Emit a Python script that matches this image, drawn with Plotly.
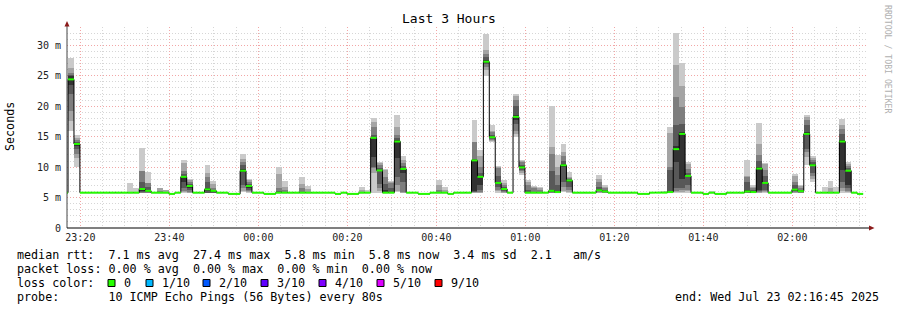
import plotly.graph_objects as go
from datetime import datetime, timedelta

# ---------------- data ----------------
first_step = "2025-07-22 23:15:54"   # start of first (partly visible) 80 s step
step_seconds = 80
axis_start = "2025-07-22 23:17:00"
axis_end = "2025-07-23 02:17:00"

# median rtt per step (ms); None = no data
median_ms = [
    5.8,
    24.4, 13.8, 5.8, 5.8, 5.8, 5.8, 5.8, 5.8, 5.8, 5.8,
    5.8, 5.8, 6.4, 6.1, 5.8, 5.8, 5.8, 5.6, 5.8, 8.4,
    6.9, 5.8, 5.8, 6.35, 6.1, 5.8, 5.8, 5.6, 5.6, 9.4,
    6.9, 5.8, 5.8, 5.6, 5.6, 5.8, 5.8, 5.8, 5.8, 5.8,
    5.8, 5.8, 5.8, 5.8, 5.8, 5.6, 5.8, 5.6, 5.6, 5.8,
    5.8, 14.8, 9.45, 5.8, 5.8, 14.2, 9.7, 5.8, 5.8, 5.6,
    5.6, 5.8, 5.8, 5.8, 5.6, 5.8, 5.8, 5.8, 11.1, 8.4,
    27.3, 14.9, 7.4, 6.4, 5.8, 18.25, 9.95, 5.8, 5.8, 5.8,
    5.8, 6.1, 5.9, 10.3, 7.8, 5.8, 5.8, 5.8, 5.8, 6.2,
    6.0, 5.8, 5.8, 5.8, 5.8, 5.8, 5.6, 5.6, 5.8, 5.8,
    5.8, 5.9, 12.95, 15.45, 8.55, 5.8, 5.8, 5.6, 5.8, 5.6,
    5.6, 5.8, 5.8, 5.8, 6.0, 5.9, 9.75, 7.4, 5.8, 5.8,
    5.8, 5.8, 6.3, 6.05, 15.45, 10.3, 5.8, 5.8, 5.8, 5.8,
    14.2, 9.4, 5.8, 5.6, None,
]

# steps that show smoke, and their 10 sorted ping times (ms)
smoke_steps = [1, 2, 11, 12, 13, 14, 16, 17, 20, 21, 24, 25, 30, 31, 36, 37, 40, 41,
               50, 51, 52, 53, 54, 55, 56, 57, 63, 64, 69, 70, 71, 72, 73, 74, 76, 77,
               78, 79, 80, 82, 83, 84, 85, 90, 91, 102, 103, 104, 105, 109, 115, 116,
               117, 118, 123, 124, 125, 126, 128, 129, 130, 131, 132]
smoke_pings = [
    [15.9, 17.5, 19.2, 22.0, 23.5, 25.0, 25.2, 25.5, 26.3, 27.9],
    [9.95, 11.5, 12.2, 13.0, 13.5, 14.0, 14.2, 14.4, 14.8, 15.2],
    [5.8, 5.8, 5.8, 5.8, 5.8, 5.8, 5.8, 5.8, 5.8, 7.4],
    [5.8, 5.8, 5.8, 5.8, 5.8, 5.8, 5.8, 5.8, 5.8, 6.6],
    [5.8, 5.8, 5.8, 5.9, 6.0, 6.6, 7.6, 9.4, 9.4, 13.1],
    [5.8, 5.8, 5.8, 5.9, 6.0, 6.2, 6.8, 7.4, 7.4, 9.2],
    [5.8, 5.8, 5.8, 5.8, 5.8, 5.8, 5.8, 6.1, 6.5, 6.6],
    [5.8, 5.8, 5.8, 5.8, 5.8, 5.8, 5.8, 5.8, 6.2, 6.3],
    [5.8, 5.9, 6.1, 6.6, 7.5, 8.5, 8.8, 9.4, 10.7, 11.2],
    [5.8, 5.8, 5.9, 6.2, 6.6, 7.0, 7.3, 7.6, 7.9, 8.0],
    [5.8, 5.8, 5.8, 5.8, 6.0, 6.6, 7.6, 8.4, 9.0, 10.3],
    [5.8, 5.8, 5.8, 5.8, 5.9, 6.1, 6.3, 6.6, 7.2, 7.7],
    [5.9, 6.0, 6.5, 7.0, 9.2, 9.7, 10.3, 10.9, 11.4, 12.1],
    [5.8, 5.9, 6.0, 6.2, 6.6, 7.0, 7.2, 7.5, 7.8, 8.0],
    [5.8, 5.8, 5.8, 5.8, 5.8, 5.8, 6.0, 6.5, 8.9, 10.0],
    [5.8, 5.8, 5.8, 5.8, 5.8, 5.8, 5.8, 6.2, 6.8, 7.7],
    [5.8, 5.8, 5.8, 5.8, 5.8, 5.8, 5.8, 6.6, 7.2, 8.4],
    [5.8, 5.8, 5.8, 5.8, 5.8, 5.8, 5.8, 5.8, 6.4, 6.9],
    [5.8, 5.8, 5.8, 5.8, 5.8, 5.8, 5.8, 5.8, 6.3, 6.7],
    [5.8, 5.8, 5.8, 5.8, 5.8, 5.8, 5.8, 5.8, 5.8, 6.3],
    [5.8, 9.0, 9.9, 10.0, 11.7, 15.0, 15.3, 16.6, 17.4, 18.0],
    [5.8, 6.0, 6.6, 7.3, 9.3, 9.6, 9.9, 10.3, 10.6, 10.8],
    [5.8, 5.8, 5.8, 5.8, 5.8, 6.2, 7.3, 8.4, 9.6, 9.7],
    [5.8, 5.8, 5.8, 5.8, 5.8, 5.8, 6.5, 7.4, 7.6, 7.7],
    [5.9, 6.0, 7.0, 8.4, 11.5, 14.4, 14.8, 15.2, 16.6, 18.5],
    [5.8, 5.8, 5.9, 7.5, 9.0, 9.8, 10.2, 10.6, 11.2, 11.9],
    [5.8, 5.8, 5.8, 5.8, 5.8, 5.8, 5.8, 6.3, 7.0, 7.9],
    [5.8, 5.8, 5.8, 5.8, 5.8, 5.8, 5.8, 5.8, 6.3, 6.7],
    [5.8, 5.8, 5.9, 5.9, 6.0, 11.2, 11.3, 14.1, 14.2, 17.7],
    [5.8, 5.8, 5.9, 6.2, 7.0, 8.6, 9.0, 10.0, 11.8, 12.8],
    [25.0, 26.0, 26.4, 26.9, 27.1, 27.6, 28.0, 28.6, 29.2, 31.8],
    [14.1, 14.3, 14.5, 14.6, 14.8, 15.0, 15.3, 15.7, 16.0, 16.9],
    [5.8, 6.0, 6.3, 6.7, 7.2, 7.6, 8.5, 9.9, 10.0, 10.1],
    [5.8, 5.8, 5.9, 6.1, 6.3, 6.5, 6.7, 7.1, 7.4, 7.8],
    [15.0, 15.5, 16.0, 17.0, 17.8, 18.6, 20.0, 21.0, 21.6, 22.0],
    [8.7, 9.0, 9.3, 9.5, 9.8, 10.1, 10.4, 10.8, 11.0, 11.2],
    [5.8, 5.8, 5.8, 5.8, 5.8, 5.9, 6.3, 7.0, 7.6, 7.8],
    [5.8, 5.8, 5.8, 5.8, 5.8, 5.8, 5.8, 6.5, 6.8, 6.9],
    [5.8, 5.8, 5.8, 5.8, 5.8, 5.8, 5.8, 6.3, 6.5, 6.7],
    [5.8, 5.8, 5.8, 5.9, 6.0, 6.3, 9.3, 12.2, 13.3, 20.0],
    [5.8, 5.8, 5.8, 5.8, 5.9, 6.0, 7.0, 8.7, 10.0, 12.0],
    [5.9, 6.1, 6.8, 7.6, 10.0, 10.5, 11.0, 11.8, 12.4, 13.8],
    [5.8, 5.9, 6.2, 6.7, 7.6, 7.9, 8.0, 8.2, 8.4, 9.2],
    [5.8, 5.8, 5.9, 6.0, 6.1, 6.4, 6.8, 7.5, 8.1, 8.7],
    [5.8, 5.8, 5.8, 5.9, 5.9, 6.1, 6.3, 6.6, 6.8, 7.1],
    [5.8, 5.8, 5.8, 5.8, 5.8, 6.0, 9.5, 10.0, 15.6, 16.6],
    [5.8, 5.9, 6.0, 6.5, 10.8, 13.5, 16.9, 21.5, 26.8, 32.0],
    [5.8, 5.9, 6.2, 6.6, 8.0, 15.8, 17.0, 19.9, 23.3, 27.05],
    [5.8, 6.0, 6.3, 7.0, 8.3, 8.7, 9.0, 9.7, 10.5, 10.9],
    [5.8, 5.8, 5.8, 5.8, 5.8, 5.8, 5.8, 5.8, 5.8, 6.1],
    [5.8, 5.8, 5.8, 5.9, 5.9, 6.2, 7.5, 8.4, 8.6, 11.2],
    [5.8, 5.8, 5.8, 5.8, 5.8, 6.0, 6.3, 6.6, 6.8, 7.0],
    [5.8, 5.8, 5.9, 6.0, 6.2, 10.0, 11.0, 12.0, 13.8, 17.2],
    [5.8, 5.9, 6.0, 6.2, 7.2, 7.6, 8.5, 9.5, 10.5, 10.7],
    [5.8, 5.8, 5.9, 6.0, 6.1, 6.4, 7.0, 7.6, 8.5, 8.9],
    [5.8, 5.8, 5.8, 5.9, 6.0, 6.1, 6.3, 6.6, 6.9, 7.1],
    [10.3, 11.7, 12.5, 13.0, 15.2, 15.7, 16.9, 17.8, 18.2, 18.5],
    [7.6, 8.0, 8.5, 9.0, 10.1, 10.5, 10.8, 11.2, 11.5, 11.9],
    [5.8, 5.8, 5.8, 5.8, 5.8, 5.8, 5.8, 5.8, 5.8, 6.7],
    [5.8, 5.8, 5.8, 5.8, 5.8, 5.8, 5.8, 5.8, 6.6, 7.7],
    [5.8, 5.8, 5.8, 5.8, 5.8, 5.8, 5.8, 5.8, 5.8, 6.7],
    [5.8, 6.0, 6.6, 7.6, 9.5, 14.5, 15.5, 16.2, 16.9, 17.9],
    [5.8, 5.9, 6.1, 6.5, 7.1, 9.5, 9.8, 10.2, 10.5, 10.8],
]

y_tick_vals = [0, 5, 10, 15, 20, 25, 30]
y_tick_text = ["0", "5 m", "10 m", "15 m", "20 m", "25 m", "30 m"]

loss_labels = ["0", "1/10", "2/10", "3/10", "4/10", "5/10", "9/10"]
loss_colors = ["#26ff00", "#00b8ff", "#0059ff", "#5e00ff", "#7e00ff", "#dd00ff", "#ff0000"]

title_text = "Last 3 Hours"
y_title = "Seconds"
credit_text = "RRDTOOL / TOBI OETIKER"
line_median = "median rtt:  7.1 ms avg  27.4 ms max  5.8 ms min  5.8 ms now  3.4 ms sd  2.1   am/s"
line_loss = "packet loss: 0.00 % avg  0.00 % max  0.00 % min  0.00 % now"
line_color = "loss color:"
line_probe = "probe:       10 ICMP Echo Pings (56 Bytes) every 80s"
line_end = "end: Wed Jul 23 02:16:45 2025"

smoke_shades = ["#cacaca", "#a4a4a4", "#7e7e7e", "#585858", "#323232"]

# ---------------- layout geometry (px) ----------------
W, H = 897, 310
L, R, T, B = 67, 868, 27, 228
PW, PH = R - L, B - T
FONT = "DejaVu Sans Mono"


def px_x(px):
    return (px - L) / PW


def px_y(py):
    return (B - py) / PH


def nb(s):
    return s.replace(" ", "\u00a0")


t0 = datetime.fromisoformat(first_step)
step = timedelta(seconds=step_seconds)
starts = [t0 + step * k for k in range(len(median_ms))]
centers = [s + step / 2 for s in starts]

fig = go.Figure()

# smoke bands (outer = light, inner = dark)
ping_of = dict(zip(smoke_steps, smoke_pings))
for i, shade in enumerate(smoke_shades):
    xs, base, hgt = [], [], []
    for k in smoke_steps:
        p = ping_of[k]
        lo, hi = p[i], p[len(p) - 1 - i]
        if hi > lo:
            xs.append(centers[k])
            base.append(lo)
            hgt.append(hi - lo)
    fig.add_trace(go.Bar(x=xs, y=hgt, base=base, width=step_seconds * 1000,
                         marker=dict(color=shade, line=dict(width=0)),
                         hoverinfo="skip"))

# black step line for the median
bx, by = [], []
for k, v in enumerate(median_ms):
    if v is None:
        bx.append(None)
        by.append(None)
        continue
    bx += [starts[k], starts[k] + step]
    by += [v, v]
fig.add_trace(go.Scatter(x=bx, y=by, mode="lines",
                         line=dict(color="#000000", width=1), hoverinfo="skip"))

# loss-coloured median segments
gx, gy = [], []
for k, v in enumerate(median_ms):
    if v is None:
        continue
    gx += [starts[k], starts[k] + step, None]
    gy += [v, v, None]
fig.add_trace(go.Scatter(x=gx, y=gy, mode="lines",
                         line=dict(color=loss_colors[0], width=2), hoverinfo="skip"))

minor_grid = "#d6d6d6"
major_grid = "#f2a6a6"
dots = "1px,2px"

fig.update_layout(
    width=W, height=H,
    margin=dict(l=L, r=W - R, t=T, b=H - B, pad=0),
    paper_bgcolor="white", plot_bgcolor="white",
    showlegend=False, barmode="overlay", bargap=0,
    font=dict(family=FONT, color="#000000"),
    xaxis=dict(
        type="date", range=[axis_start, axis_end],
        tickmode="linear", tick0="2025-07-22 23:20:00", dtick=20 * 60 * 1000,
        tickformat="%H:%M", ticks="", ticklabelstandoff=2,
        tickfont=dict(family=FONT, size=10, color="#222222"),
        showgrid=True, gridcolor=major_grid, griddash=dots, gridwidth=1,
        minor=dict(tick0="2025-07-22 23:20:00", dtick=5 * 60 * 1000, showgrid=True,
                   gridcolor=minor_grid, griddash=dots, gridwidth=1),
        zeroline=False, showline=False, fixedrange=True,
    ),
    yaxis=dict(
        range=[0, 33], tickmode="array", tickvals=y_tick_vals, ticktext=y_tick_text,
        ticks="", ticklabelstandoff=5,
        tickfont=dict(family=FONT, size=10, color="#222222"),
        showgrid=True, gridcolor=major_grid, griddash=dots, gridwidth=1,
        minor=dict(tickmode="linear", tick0=0, dtick=1, showgrid=True,
                   gridcolor=minor_grid, griddash=dots, gridwidth=1),
        zeroline=False, showline=False, fixedrange=True,
    ),
)

shapes = [
    dict(type="line", xref="paper", yref="paper", x0=0, x1=0, y0=0, y1=px_y(25),
         line=dict(color="#444444", width=1)),
    dict(type="line", xref="paper", yref="paper", x0=0, x1=px_x(870), y0=0, y1=0,
         line=dict(color="#000000", width=1)),
    dict(type="path", xref="paper", yref="paper",
         path=f"M {px_x(64.5)} {px_y(26.5)} L {px_x(69.5)} {px_y(26.5)} L {px_x(67)} {px_y(21)} Z",
         fillcolor="#8b1a1a", line=dict(width=0)),
    dict(type="path", xref="paper", yref="paper",
         path=f"M {px_x(869)} {px_y(225.5)} L {px_x(869)} {px_y(230.5)} L {px_x(874.5)} {px_y(228)} Z",
         fillcolor="#8b1a1a", line=dict(width=0)),
]
sq_x = [108, 146, 203, 261, 319, 377, 435]
for xs0, col in zip(sq_x, loss_colors):
    shapes.append(dict(type="rect", xref="paper", yref="paper",
                       x0=px_x(xs0), x1=px_x(xs0 + 7), y0=px_y(286.5), y1=px_y(279.5),
                       fillcolor=col, line=dict(color="#000000", width=1)))
fig.update_layout(shapes=shapes)

TXT = 11.7
ann = [
    dict(text=title_text, x=px_x(448.5), y=px_y(19), xanchor="center", yanchor="middle",
         font=dict(family=FONT, size=13, color="#000000")),
    dict(text=y_title, x=px_x(10), y=px_y(127), xanchor="center", yanchor="middle",
         textangle=-90, font=dict(family=FONT, size=TXT, color="#000000")),
    dict(text=nb(credit_text), x=px_x(888), y=px_y(59), xanchor="center", yanchor="middle",
         textangle=90, font=dict(family=FONT, size=8.2, color="#b0b0b0")),
    dict(text=nb(line_median), x=px_x(15), y=px_y(254.5), xanchor="left", yanchor="middle",
         font=dict(family=FONT, size=TXT, color="#000000")),
    dict(text=nb(line_loss), x=px_x(15), y=px_y(268.5), xanchor="left", yanchor="middle",
         font=dict(family=FONT, size=TXT, color="#000000")),
    dict(text=nb(line_color), x=px_x(15), y=px_y(282.5), xanchor="left", yanchor="middle",
         font=dict(family=FONT, size=TXT, color="#000000")),
    dict(text=nb(line_probe), x=px_x(15), y=px_y(297), xanchor="left", yanchor="middle",
         font=dict(family=FONT, size=TXT, color="#000000")),
    dict(text=nb(line_end), x=px_x(881), y=px_y(297), xanchor="right", yanchor="middle",
         font=dict(family=FONT, size=TXT, color="#000000")),
]
for xs0, lab in zip(sq_x, loss_labels):
    ann.append(dict(text=nb(lab), x=px_x(xs0 + 14), y=px_y(282.5), xanchor="left",
                    yanchor="middle", font=dict(family=FONT, size=TXT, color="#000000")))
for a in ann:
    a.update(xref="paper", yref="paper", showarrow=False)
fig.update_layout(annotations=ann)

fig.write_html("out.html", config={"displayModeBar": False, "staticPlot": True})
